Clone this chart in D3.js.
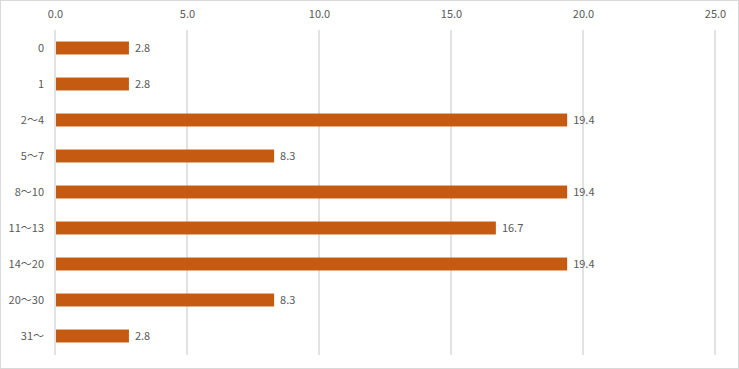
<!DOCTYPE html>
<html>
<head>
<meta charset="utf-8">
<script src="https://cdn.jsdelivr.net/npm/d3@7"></script>
<style>
  body { margin: 0; background: #fff; }
  svg text { font-family: "Noto Sans CJK JP", "Noto Sans", sans-serif; fill: #595959; font-size: 11px; }
</style>
</head>
<body>
<div id="chart"></div>
<script>
// categories and values
var categories = ["0", "1", "2～4", "5～7", "8～10", "11～13", "14～20", "20～30", "31～"];
var values = [2.8, 2.8, 19.4, 8.3, 19.4, 16.7, 19.4, 8.3, 2.8];
var tickValues = [0, 5, 10, 15, 20, 25];

var width = 739, height = 369;
var margin = {top: 30, right: 24, bottom: 15, left: 55};

var svg = d3.select("#chart")
    .append("svg")
        .attr("width", width)
        .attr("height", height);

// chart border
svg.append("rect")
    .attr("x", 0.5).attr("y", 0.5)
    .attr("width", width - 1).attr("height", height - 1)
    .attr("fill", "#fff")
    .attr("stroke", "#d9d9d9");

//x-axis
var x = d3.scaleLinear()
    .domain([0, 25])
    .range([margin.left, width - margin.right]);

//y-axis
var y = d3.scaleBand()
    .domain(categories)
    .range([margin.top, height - margin.bottom])
    .paddingInner(0.64)
    .paddingOuter(0.32);

// gridlines
svg.append("g")
    .selectAll("line")
    .data(tickValues)
    .enter()
    .append("line")
        .attr("x1", function(d){ return x(d); })
        .attr("x2", function(d){ return x(d); })
        .attr("y1", margin.top)
        .attr("y2", height - margin.bottom + 1)
        .attr("stroke", "#d9d9d9")
        .attr("stroke-width", 1.5);

// top tick labels
var xAxis = svg.append("g")
    .attr("transform", "translate(0," + 18 + ")")
    .call(d3.axisTop(x).tickValues(tickValues).tickFormat(d3.format(".1f")).tickSize(0).tickPadding(0));
xAxis.select(".domain").remove();
xAxis.selectAll("text").attr("font-family", null).attr("font-size", null).attr("fill", null);

// category labels
var yAxis = svg.append("g")
    .attr("transform", "translate(" + (margin.left - 11) + ",0)")
    .call(d3.axisLeft(y).tickSize(0).tickPadding(0));
yAxis.select(".domain").remove();
yAxis.selectAll("text").attr("font-family", null).attr("font-size", null).attr("fill", null);

// bars
svg.append("g")
    .selectAll("rect")
    .data(values)
    .enter()
    .append("rect")
        .attr("x", x(0) + 1)
        .attr("y", function(d, i){ return y(categories[i]); })
        .attr("width", function(d){ return x(d) - x(0) - 1; })
        .attr("height", y.bandwidth())
        .attr("fill", "#C55A11");

// value labels
svg.append("g")
    .selectAll("text")
    .data(values)
    .enter()
    .append("text")
        .attr("x", function(d){ return x(d) + 6; })
        .attr("y", function(d, i){ return y(categories[i]) + y.bandwidth() / 2; })
        .attr("dy", "0.35em")
        .text(function(d){ return d.toFixed(1); });
</script>
</body>
</html>
